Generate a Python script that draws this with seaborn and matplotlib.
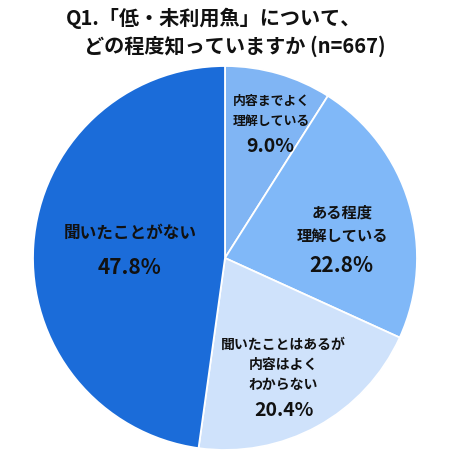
import matplotlib
matplotlib.use("Agg")
import matplotlib.pyplot as plt
import seaborn as sns

sns.set_theme(style="white")
plt.rcParams['font.family'] = ['Noto Sans CJK JP', 'DejaVu Sans']

categories = ["内容までよく\n理解している", "ある程度\n理解している",
              "聞いたことはあるが\n内容はよく\nわからない", "聞いたことがない"]
values = [9.0, 22.8, 20.4, 47.8]
pct_labels = ["9.0%", "22.8%", "20.4%", "47.8%"]
colors = ["#80b5f4", "#80b8f8", "#cfe2fb", "#1b6cd9"]
title_lines = ["Q1.「低・未利用魚」について、", "どの程度知っていますか (n=667)"]

W = H = 450
fig = plt.figure(figsize=(4.5, 4.5), dpi=100)
ax = fig.add_axes([0, 0, 1, 1])
ax.pie(values, colors=colors, startangle=90, counterclock=False,
       center=(225, H - 258), radius=192,
       wedgeprops=dict(edgecolor="white", linewidth=1.3))
ax.set_xlim(0, W)
ax.set_ylim(0, H)
ax.set_aspect("equal")
ax.axis("off")

def T(x, y, s, size, ha="center"):
    ax.text(x, H - y, s, ha=ha, va="center", fontsize=size,
            fontweight="bold", color="#111111", linespacing=1.55)

T(66, 18, title_lines[0], 14.5, ha="left")
T(84, 46, title_lines[1], 14.5, ha="left")

# label positions (pixel coordinates)
label_pos = [(271, 111, 9.3), (342, 224, 11), (283, 365, 10), (130, 233, 12)]
pct_pos = [(270, 147, 14), (341, 265, 15), (284, 411, 14), (130, 268, 15)]
for cat, (x, y, s) in zip(categories, label_pos):
    T(x, y, cat, s)
for p, (x, y, s) in zip(pct_labels, pct_pos):
    T(x, y, p, s)

fig.savefig("out.png", dpi=100, facecolor="white")
